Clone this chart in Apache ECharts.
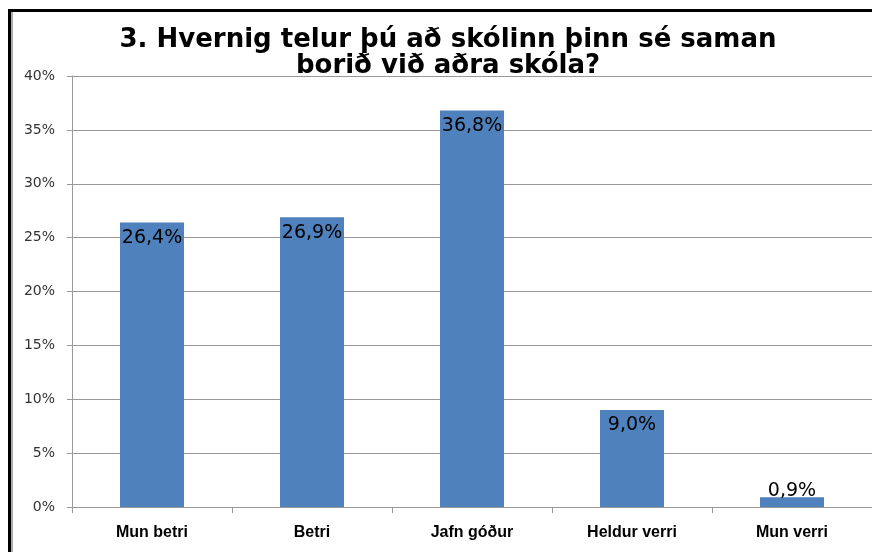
<!DOCTYPE html>
<html>
<head>
<meta charset="utf-8">
<script src="https://cdn.jsdelivr.net/npm/echarts@6/dist/echarts.min.js"></script>
<style>
    body { margin: 0; background: #fff; }
    #wrap { position: relative; width: 872px; height: 552px; }
    #chart { width: 872px; height: 552px; }
    /* ramminn efst og til vinstri */
    #frame {
        position: absolute; left: 8px; top: 9px; right: 0; bottom: 0;
        border-top: 3px solid #000; border-left: 3px solid #000;
        box-shadow: inset 2px 0 0 #aaa;
        pointer-events: none;
    }
</style>
</head>
<body>
<div id="wrap">
    <div id="chart"></div>
    <div id="frame"></div>
</div>
<script>
// gögn
const categories = ['Mun betri', 'Betri', 'Jafn góður', 'Heldur verri', 'Mun verri']
const values = [26.4, 26.9, 36.8, 9.0, 0.9]
const titleText = '3. Hvernig telur þú að skólinn þinn sé saman\nborið við aðra skóla?'

const chart = echarts.init(document.getElementById('chart'))

const barData = values.map(v => {
    // lítil súla: merkið fer ofan á
    if (v < 3) {
        return { value: v, label: { position: 'top', distance: -3 } }
    }
    return v
})

chart.setOption({
    animation: false,
    title: {
        text: titleText,
        left: 443,
        textAlign: 'center',
        top: 22,
        textStyle: {
            fontFamily: 'DejaVu Sans',
            fontWeight: 'bold',
            fontSize: 26,
            lineHeight: 26,
            color: '#000'
        }
    },
    grid: { left: 72, right: 0, top: 76, bottom: 45 },
    xAxis: {
        type: 'category',
        data: categories,
        axisLine: { lineStyle: { color: '#999', width: 1 } },
        axisTick: { show: true, length: 6, lineStyle: { color: '#999' } },
        axisLabel: {
            margin: 18,
            fontFamily: 'Liberation Sans',
            fontWeight: 'bold',
            fontSize: 16,
            color: '#000'
        }
    },
    yAxis: {
        type: 'value',
        min: 0,
        max: 40,
        interval: 5,
        axisLine: { show: true, lineStyle: { color: '#999' } },
        axisTick: { show: true, length: 5, lineStyle: { color: '#999' } },
        splitLine: { lineStyle: { color: '#999' } },
        axisLabel: {
            formatter: '{value}%',
            margin: 17,
            fontFamily: 'DejaVu Sans',
            fontSize: 14,
            color: '#333'
        }
    },
    series: [{
        type: 'bar',
        data: barData,
        barWidth: '40%',
        itemStyle: { color: '#4F81BD' },
        label: {
            show: true,
            position: 'insideTop',
            distance: 6,
            fontFamily: 'DejaVu Sans',
            fontSize: 19,
            color: '#000',
            formatter: p => p.value.toFixed(1).replace('.', ',') + '%'
        }
    }]
})
</script>
</body>
</html>
